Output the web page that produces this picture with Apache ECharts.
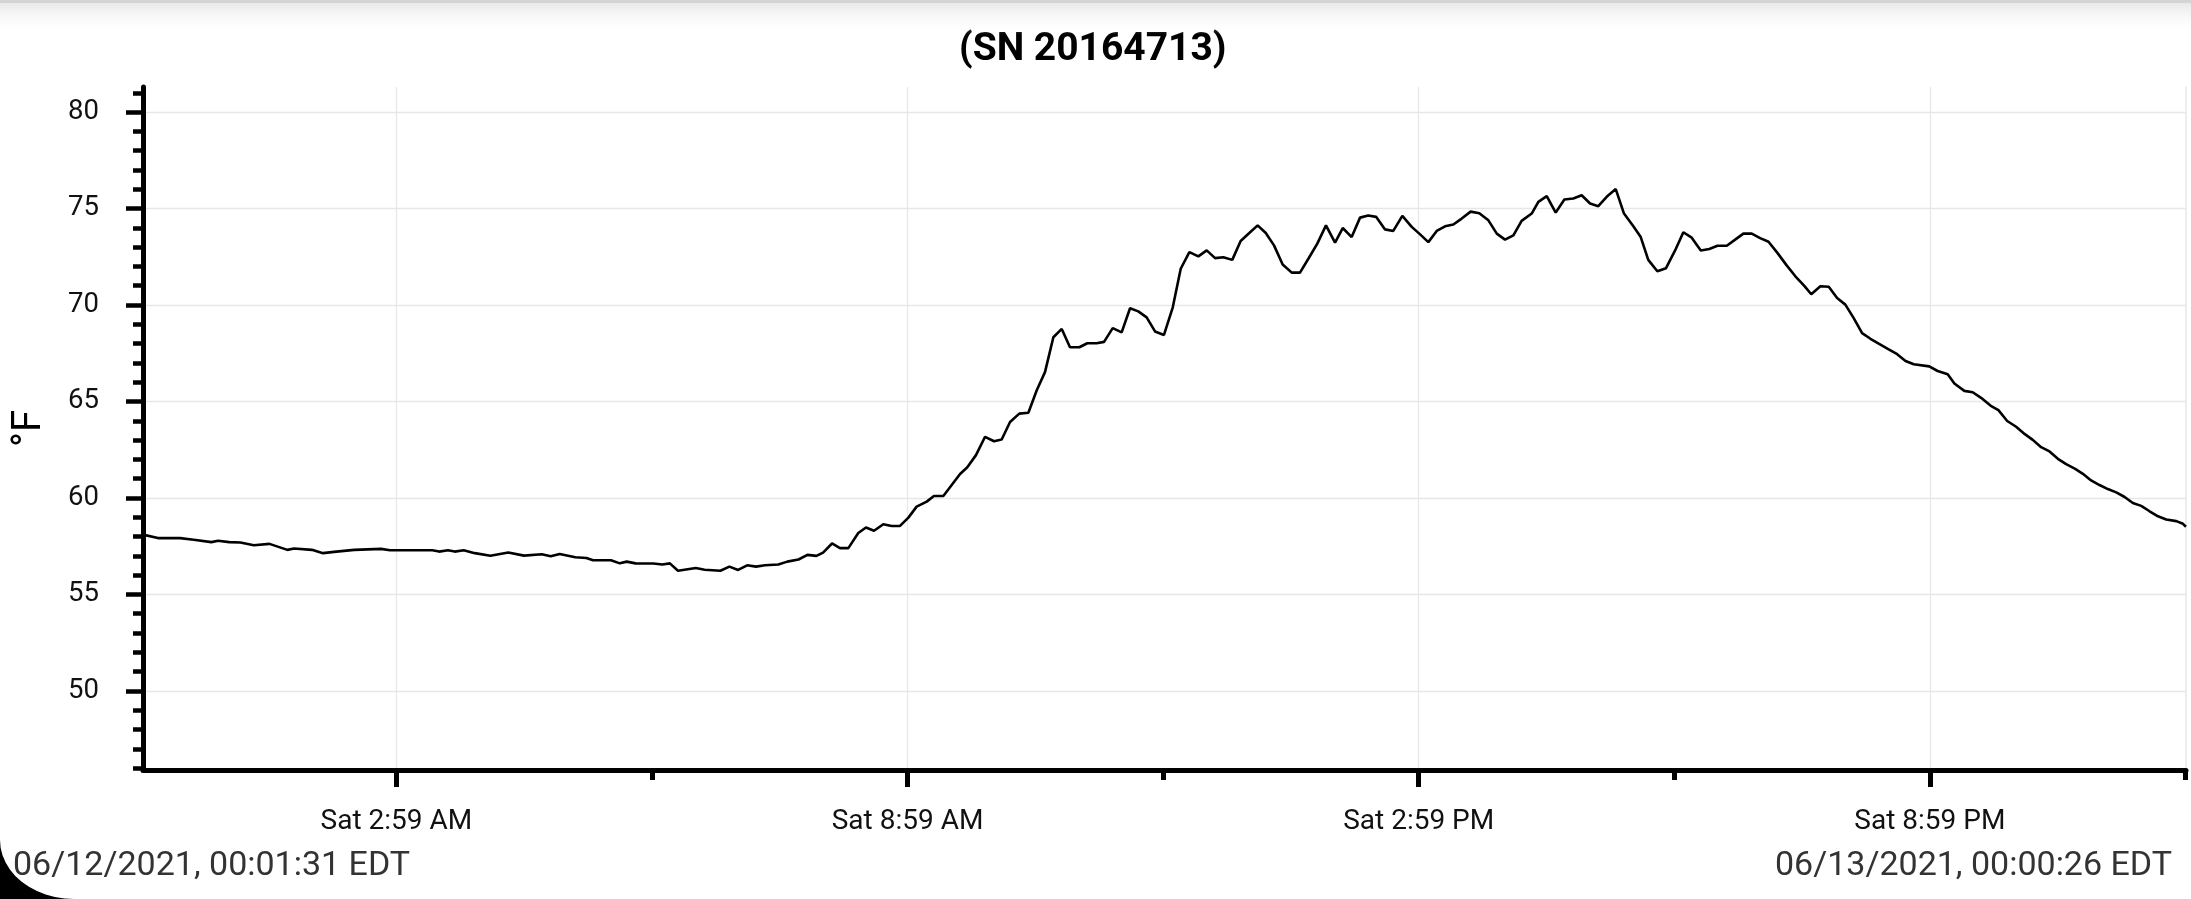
<!DOCTYPE html>
<html>
<head>
<meta charset="utf-8">
<script src="https://cdn.jsdelivr.net/npm/echarts@6/dist/echarts.min.js"></script>
<style>
html,body{margin:0;padding:0;background:#fff;}
#chart{width:2191px;height:899px;}
</style>
</head>
<body>
<div id="chart"></div>
<script>
// time in minutes since 06/12/2021 00:00 EDT
const startMin = 1.517;   // 00:01:31
const endMin = 1440.433;  // 06/13 00:00:26

const times = [
1.5,12.0,27.7,37.2,49.7,54.4,62.3,70.1,79.6,90.6,103.2,107.9,120.5,128.3,137.7,150.3,169.2,175.5,205.3,210.1,
216.3,221.1,227.4,235.2,246.2,258.8,269.8,282.4,288.7,295.0,306.0,313.8,318.5,331.1,337.4,342.2,348.4,361.0,367.3,372.6,
378.3,390.9,397.1,408.2,414.5,420.7,427.0,433.3,439.6,449.0,455.3,463.2,469.5,475.8,480.5,486.8,
492.4,498.3,505.3,510.7,516.4,522.9,528.8,534.7,540.6,546.4,553.5,558.6,565.2,571.1,577.0,582.1,588.2,594.6,600.9,606.3,
612.2,618.7,625.1,631.0,636.8,642.7,648.6,654.4,661.0,666.6,673.2,678.4,
684.5,690.8,696.7,702.5,708.4,714.3,720.6,726.8,732.4,738.5,744.8,750.7,756.6,762.4,768.7,774.6,780.7,786.6,792.3,798.1,
804.2,810.6,816.4,822.3,828.6,834.7,841.1,846.5,852.8,858.7,864.5,870.0,
876.3,882.1,888.5,895.1,901.0,906.8,912.7,918.6,924.4,930.3,936.6,942.7,949.1,955.0,960.8,966.7,972.5,979.6,984.3,990.2,
996.5,1002.6,1008.9,1014.8,1020.7,1026.5,1032.4,1038.8,1044.6,1051.2,1056.4,
1061.7,1068.1,1074.2,1080.6,1086.4,1092.3,1098.7,1104.7,1110.4,1117.0,1122.9,1128.7,1134.6,1140.5,1146.4,1152.8,1158.9,1165.3,1171.6,1176.5,
1182.9,1188.8,1194.7,1200.5,1206.4,1212.3,1218.2,1224.0,1230.4,1237.0,1242.9,1248.7,
1259.6,1265.5,1272.6,1277.3,1284.3,1290.2,1296.1,1302.7,1308.3,1314.5,1320.8,1326.7,1332.5,1338.4,1344.3,1350.2,1356.0,1362.4,1367.8,1373.6,
1379.5,1385.4,1391.3,1397.2,1403.0,1408.9,1414.8,1420.7,1426.5,1433.6,1438.3,1440.4
];

const temps = [
58.10,57.92,57.92,57.83,57.71,57.78,57.71,57.69,57.55,57.62,57.31,57.38,57.31,57.14,57.22,57.31,57.36,57.29,57.29,57.22,
57.29,57.22,57.29,57.14,57.00,57.17,57.01,57.08,56.98,57.10,56.93,56.89,56.77,56.77,56.61,56.70,56.61,56.60,56.55,56.61,
56.23,56.37,56.28,56.23,56.44,56.27,56.51,56.44,56.51,56.55,56.70,56.81,57.05,57.00,57.17,57.64,
57.40,57.40,58.18,58.47,58.30,58.64,58.55,58.55,58.98,59.55,59.81,60.10,60.10,60.67,61.24,61.59,62.22,63.17,62.94,63.03,
63.94,64.37,64.42,65.58,66.52,68.33,68.76,67.81,67.81,68.02,68.02,68.09,
68.80,68.58,69.83,69.67,69.36,68.63,68.45,69.88,71.88,72.74,72.52,72.83,72.43,72.48,72.34,73.32,73.73,74.13,73.73,73.09,
72.10,71.68,71.68,72.40,73.18,74.13,73.23,73.99,73.52,74.53,74.64,74.57,
73.92,73.84,74.62,74.05,73.66,73.26,73.84,74.08,74.17,74.48,74.84,74.76,74.39,73.70,73.39,73.61,74.36,74.74,75.35,75.64,
74.79,75.47,75.52,75.69,75.26,75.12,75.61,76.01,74.74,74.08,73.52,
72.34,71.75,71.91,72.83,73.77,73.49,72.83,72.90,73.07,73.07,73.39,73.70,73.70,73.47,73.28,72.69,72.08,71.49,70.99,70.56,
70.97,70.95,70.36,70.02,69.32,68.54,68.25,68.00,67.73,67.45,67.10,66.93,
66.82,66.58,66.41,65.93,65.55,65.48,65.19,64.79,64.55,63.99,63.69,63.32,63.01,62.63,62.41,62.03,61.75,61.51,61.25,60.91,
60.67,60.46,60.29,60.05,59.74,59.59,59.31,59.05,58.88,58.80,58.66,58.51
];

const xLabelValues = [180, 540, 900, 1260];
const xLabels = ['Sat 2:59 AM', 'Sat 8:59 AM', 'Sat 2:59 PM', 'Sat 8:59 PM'];
const xMinorTickValues = [360, 720, 1080, 1440];
const yTickValues = [50, 55, 60, 65, 70, 75, 80];
const yMin = 45.9, yMax = 81.3;

const titleText = '(SN 20164713)';
const startText = '06/12/2021, 00:01:31 EDT';
const endText = '06/13/2021, 00:00:26 EDT';
const unitText = '°F';

const data = times.map((t, i) => [t, temps[i]]);

// rounded screen-corner decoration (bottom-left)
const cornerPts = [[0, 840]];
for (let k = 1; k <= 12; k++) {
  const a = (k / 12) * Math.PI / 2;
  cornerPts.push([74 - 74 * Math.cos(a), 840 + 59 * Math.sin(a)]);
}
cornerPts.push([0, 899]);

const chart = echarts.init(document.getElementById('chart'), null, {renderer: 'canvas'});
const FONT = 'Roboto';

chart.setOption({
  animation: false,
  backgroundColor: '#ffffff',
  textStyle: {fontFamily: FONT},
  title: [
    {text: titleText, left: 954, top: 26,
     textStyle: {fontFamily: FONT, fontSize: 39, fontWeight: 'bold', color: '#000'}},
    {text: startText, left: 8, top: 844,
     textStyle: {fontFamily: FONT, fontSize: 34, fontWeight: 'normal', color: '#333'}},
    {text: endText, right: 14, top: 844,
     textStyle: {fontFamily: FONT, fontSize: 34, fontWeight: 'normal', color: '#333'}}
  ],
  graphic: [
    {type: 'rect', z: 100, silent: true, shape: {x: 0, y: 0, width: 2191, height: 3}, style: {fill: '#d4d4d4'}},
    {type: 'rect', z: 100, silent: true, shape: {x: 0, y: 3, width: 2191, height: 32},
     style: {fill: {type: 'linear', x: 0, y: 0, x2: 0, y2: 1, colorStops: [
       {offset: 0, color: '#e9e9e9'}, {offset: 1, color: 'rgba(255,255,255,0)'}]}}},
    {type: 'polygon', z: 100, silent: true, shape: {points: cornerPts}, style: {fill: '#000'}}
  ],
  grid: {left: 143, right: 5, top: 87, bottom: 129, containLabel: false},
  xAxis: [
    {
      type: 'value', position: 'bottom', min: startMin, max: endMin,
      axisLine: {show: true, onZero: false, lineStyle: {color: '#000', width: 5}},
      axisTick: {show: true, customValues: xLabelValues, length: 17, lineStyle: {color: '#000', width: 5}},
      axisLabel: {show: true, customValues: xLabelValues, margin: 38, color: '#111', fontSize: 28, fontFamily: FONT,
        formatter: function (v) { const i = xLabelValues.indexOf(Math.round(v)); return i >= 0 ? xLabels[i] : ''; }},
      splitLine: {show: true, lineStyle: {color: '#e7e7e7', width: 1.3}}
    },
    {
      type: 'value', position: 'bottom', min: startMin, max: endMin,
      axisLine: {show: false},
      axisTick: {show: true, customValues: xMinorTickValues, length: 10, lineStyle: {color: '#000', width: 5}},
      axisLabel: {show: false},
      splitLine: {show: false}
    }
  ],
  yAxis: [
    {
      type: 'value', position: 'left', min: yMin, max: yMax, splitNumber: 7,
      name: unitText, nameLocation: 'middle', nameRotate: 90, nameGap: 93,
      nameTextStyle: {fontFamily: FONT, fontSize: 40, color: '#000'},
      axisLine: {show: true, onZero: false, lineStyle: {color: '#000', width: 5}},
      axisTick: {show: true, customValues: yTickValues, length: 17, lineStyle: {color: '#000', width: 4.5}},
      minorTick: {show: true, splitNumber: 5, length: 10, lineStyle: {color: '#000', width: 4.5}},
      axisLabel: {show: true, customValues: yTickValues, margin: 44, color: '#111', fontSize: 27.5, fontFamily: FONT},
      splitLine: {show: true, lineStyle: {color: '#e7e7e7', width: 1.3}}
    },
    {
      type: 'value', position: 'right', min: yMin, max: yMax,
      axisLine: {show: true, onZero: false, lineStyle: {color: '#e7e7e7', width: 1.5}},
      axisTick: {show: false}, axisLabel: {show: false}, splitLine: {show: false}
    }
  ],
  series: [{
    type: 'line', xAxisIndex: 0, yAxisIndex: 0, data: data,
    showSymbol: false, symbol: 'none', smooth: false,
    lineStyle: {color: '#000', width: 2.6}, z: 5
  }]
});
</script>
</body>
</html>
